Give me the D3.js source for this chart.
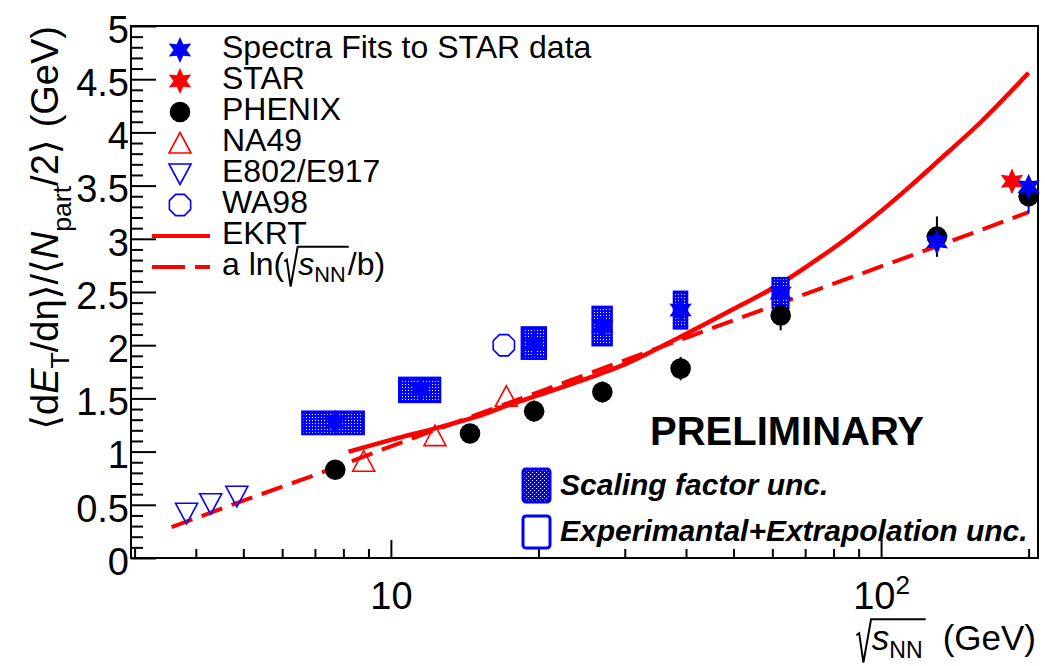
<!DOCTYPE html>
<html>
<head>
<meta charset="utf-8">
<script src="https://cdn.jsdelivr.net/npm/d3@7"></script>
<style>
  body { margin: 0; background: #fff; }
  svg text { font-family: "Liberation Sans", Arial, "DejaVu Sans", sans-serif; fill: #000; }
</style>
</head>
<body>
<div id="chart"></div>
<script>
// values: x = sqrt(s_NN) in GeV, y = <dE_T/deta>/<N_part/2> in GeV

// spectra fits to STAR data (blue stars) + their uncertainty boxes
let fitsEnergy = [7.7, 11.5, 19.6, 27, 39, 62.4, 130, 200];
let fitsValue = [1.27, 1.58, 2.02, 2.18, 2.33, 2.49, 2.97, 3.49];
let fitsErrLow = [0, 0, 0, 0, 0, 0, 0.1, 0.25];
let fitsErrHigh = [0, 0, 0, 0, 0, 0, 0.1, 0.05];
let fitsBoxHalfY = [0.105, 0.113, 0.147, 0.18, 0.172, 0.14, 0, 0];
let fitsBoxHalfX = [1.1, 1.1, 1.1, 1.2, 1.2, 2.3, 0, 0];

// STAR (red star)
let starEnergy = [185];
let starValue = [3.54];

// PHENIX (black circles)
let phenixEnergy = [7.7, 14.5, 19.6, 27, 39, 62.4, 130, 200];
let phenixValue = [0.83, 1.17, 1.38, 1.56, 1.78, 2.28, 3.02, 3.40];
let phenixErr = [0.09, 0.09, 0.1, 0.1, 0.11, 0.14, 0.19, 0.1];

// NA49 (red open triangles)
let na49Energy = [8.8, 12.3, 17.2];
let na49Value = [0.91, 1.15, 1.52];

// E802/E917 (blue open down triangles)
let e802Energy = [3.83, 4.29, 4.85];
let e802Value = [0.42, 0.51, 0.58];

// WA98 (blue open circle)
let wa98Energy = [17.0];
let wa98Value = [2.0];

// EKRT curve
let ekrtEnergy = [8.2, 10, 12.6, 15, 17.2, 20, 26.7, 30, 39, 50, 62.4, 70, 86, 100, 115, 130, 160, 200];
let ekrtValue = [1.0, 1.11, 1.23, 1.33, 1.43, 1.53, 1.73, 1.82, 2.08, 2.34, 2.58, 2.73, 3.02, 3.26, 3.5, 3.72, 4.1, 4.56];

// a ln(sqrt(s)/b) curve
let lnEnergy = [3.57, 5, 7, 10, 20, 40, 70, 100, 130, 200];
let lnValue = [0.29, 0.54, 0.78, 1.05, 1.56, 2.07, 2.48, 2.74, 2.93, 3.25];

// ticks
let yMajorTicks = [0, 0.5, 1, 1.5, 2, 2.5, 3, 3.5, 4, 4.5, 5];
let yMinorTicks = d3.range(0, 51).filter(i => i % 5 !== 0).map(i => i / 10);
let xMajorTicks = [10, 100];
let xMinorTicks = [3, 4, 5, 6, 7, 8, 9, 20, 30, 40, 50, 60, 70, 80, 90, 200];

let legendLabels = ["Spectra Fits to STAR data", "STAR", "PHENIX", "NA49", "E802/E917", "WA98", "EKRT"];

// page / frame
let svgWidth = 1045;
let svgHeight = 666;
let margin = { top: 26, right: 7, bottom: 108, left: 131 };
let blue = "#0000ff";
let red = "#ff0000";

let svg = d3.select("#chart")
  .append("svg")
  .attr("width", svgWidth)
  .attr("height", svgHeight);

svg.append("rect")
  .attr("width", svgWidth)
  .attr("height", svgHeight)
  .attr("fill", "#fff");

let x = d3.scaleLog()
  .domain([2.95, 209])
  .range([margin.left, svgWidth - margin.right]);

let y = d3.scaleLinear()
  .domain([0, 5])
  .range([svgHeight - margin.bottom, margin.top]);

// dotted fills used for the scaling factor boxes
let defs = svg.append("defs");
function dotPattern(id, size, dots) {
  let p = defs.append("pattern")
    .attr("id", id)
    .attr("patternUnits", "userSpaceOnUse")
    .attr("width", size)
    .attr("height", size);
  p.append("rect").attr("width", size).attr("height", size).attr("fill", blue)
    .attr("shape-rendering", "crispEdges");
  dots.forEach(d => {
    p.append("rect").attr("x", d[0]).attr("y", d[1])
      .attr("width", 1).attr("height", 1).attr("fill", "#fff")
      .attr("shape-rendering", "crispEdges");
  });
}
dotPattern("dots", 3, [[0, 0]]);
dotPattern("dotsLegend", 4, [[0, 0], [2, 2]]);

// marker shapes
function starPath(r) {
  let pts = [];
  for (let i = 0; i < 12; i++) {
    let a = Math.PI / 6 * i - Math.PI / 2;
    let rr = i % 2 ? r * 0.5 : r;
    pts.push([rr * Math.cos(a), rr * Math.sin(a)]);
  }
  return d3.line()(pts) + "Z";
}
function octagonPath(r) {
  let pts = d3.range(8).map(i => {
    let a = Math.PI / 8 + i * Math.PI / 4;
    return [r * Math.cos(a), r * Math.sin(a)];
  });
  return d3.line()(pts) + "Z";
}

function drawMarker(g, kind, cx, cy) {
  if (kind === "fits" || kind === "star") {
    g.append("path")
      .attr("d", starPath(13))
      .attr("transform", `translate(${cx},${cy})`)
      .attr("fill", kind === "fits" ? blue : red);
  } else if (kind === "phenix") {
    g.append("circle")
      .attr("cx", cx).attr("cy", cy).attr("r", 10.3)
      .attr("fill", "#000");
  } else if (kind === "na49") {
    g.append("path")
      .attr("d", "M0,-10.5L11,10L-11,10Z")
      .attr("transform", `translate(${cx},${cy})`)
      .attr("fill", "none").attr("stroke", red).attr("stroke-width", 1.6);
  } else if (kind === "e802") {
    g.append("path")
      .attr("d", "M0,10.5L11,-10L-11,-10Z")
      .attr("transform", `translate(${cx},${cy})`)
      .attr("fill", "none").attr("stroke", blue).attr("stroke-width", 1.6);
  } else if (kind === "wa98") {
    g.append("path")
      .attr("d", octagonPath(11.5))
      .attr("transform", `translate(${cx},${cy})`)
      .attr("fill", "none").attr("stroke", blue).attr("stroke-width", 1.6);
  }
}

// pieces of text laid out left to right, with optional radical sign
function addPieces(g, pieces, fontSize) {
  let cursor = 0;
  let placed = [];
  pieces.forEach(p => {
    cursor += p.gap || 0;
    if (p.radical) {
      placed.push({ radical: true, x: cursor, covers: p.covers });
      cursor += fontSize * 0.44;
      return;
    }
    let t = g.append("text")
      .attr("x", cursor)
      .attr("y", (p.shift || 0) * fontSize)
      .attr("font-size", fontSize * (p.scale || 1))
      .attr("font-style", p.italic ? "italic" : null)
      .text(p.text);
    let w = t.node().getComputedTextLength();
    placed.push({ x: cursor, w: w });
    cursor += w;
  });
  placed.forEach((p, i) => {
    if (!p.radical) return;
    let last = placed[i + p.covers];
    let end = last.x + last.w + 3;
    let em = fontSize;
    g.append("path")
      .attr("d", `M${p.x},${-0.42 * em}L${p.x + 0.08 * em},${-0.48 * em}L${p.x + 0.2 * em},${0.36 * em}L${p.x + 0.42 * em},${-0.88 * em}H${end}`)
      .attr("fill", "none")
      .attr("stroke", "#000")
      .attr("stroke-width", 2);
  });
  return cursor;
}

// axes: ticks drawn inside the frame, ROOT style
let plotBottom = svgHeight - margin.bottom;

let yMinor = svg.append("g")
  .attr("transform", `translate(${margin.left},0)`)
  .call(d3.axisLeft(y).tickValues(yMinorTicks).tickSize(-12).tickSizeOuter(0).tickFormat(""));

let yAxis = svg.append("g")
  .attr("transform", `translate(${margin.left},0)`)
  .call(d3.axisLeft(y).tickValues(yMajorTicks).tickSize(-25).tickSizeOuter(0).tickPadding(2).tickFormat(d => String(d)));

let xMinor = svg.append("g")
  .attr("transform", `translate(0,${plotBottom})`)
  .call(d3.axisBottom(x).tickValues(xMinorTicks).tickSize(-9).tickSizeOuter(0).tickFormat(""));

let xAxis = svg.append("g")
  .attr("transform", `translate(0,${plotBottom})`)
  .call(d3.axisBottom(x).tickValues(xMajorTicks).tickSize(-18).tickSizeOuter(0).tickPadding(24).tickFormat(d => String(d)));

[yMinor, yAxis, xMinor, xAxis].forEach(a => {
  a.attr("font-family", null).attr("font-size", null);
  a.select(".domain").remove();
  a.selectAll("line").attr("stroke", "#000").attr("stroke-width", 2);
  a.selectAll("text").attr("font-size", 38).attr("fill", "#000");
});
yAxis.selectAll("text").attr("dy", "0.43em");

// 10^2 label with a superscript
xAxis.selectAll(".tick text")
  .filter(d => d === 100)
  .text(null)
  .call(t => {
    t.append("tspan").text("10");
    t.append("tspan").attr("dy", -15).attr("font-size", 26).text("2");
  });

// frame
svg.append("rect")
  .attr("x", margin.left)
  .attr("y", margin.top)
  .attr("width", svgWidth - margin.right - margin.left)
  .attr("height", plotBottom - margin.top)
  .attr("fill", "none")
  .attr("stroke", "#000")
  .attr("stroke-width", 2);

// curves
let plot = svg.append("g");
let lineGen = d3.line()
  .x(d => x(d[0]))
  .y(d => y(d[1]));

plot.append("path")
  .attr("d", lineGen(d3.zip(lnEnergy, lnValue)))
  .attr("fill", "none")
  .attr("stroke", red)
  .attr("stroke-width", 4)
  .attr("stroke-dasharray", "22,10");

plot.append("path")
  .attr("d", lineGen.curve(d3.curveMonotoneX)(d3.zip(ekrtEnergy, ekrtValue)))
  .attr("fill", "none")
  .attr("stroke", red)
  .attr("stroke-width", 4.5);

// uncertainty boxes for the spectra fits
fitsEnergy.forEach((e, i) => {
  if (!fitsBoxHalfY[i]) return;
  let x0 = x(e - fitsBoxHalfX[i]);
  let x1 = x(e + fitsBoxHalfX[i]);
  let y0 = y(fitsValue[i] + fitsBoxHalfY[i]);
  let y1 = y(fitsValue[i] - fitsBoxHalfY[i]);
  plot.append("rect")
    .attr("x", x0).attr("y", y0)
    .attr("width", x1 - x0).attr("height", y1 - y0)
    .attr("fill", "url(#dots)")
    .attr("stroke", blue)
    .attr("stroke-width", 2.5);
});

// error bars
function errorBars(energy, value, low, high, color) {
  energy.forEach((e, i) => {
    if (!low[i] && !high[i]) return;
    plot.append("line")
      .attr("x1", x(e)).attr("x2", x(e))
      .attr("y1", y(value[i] - low[i])).attr("y2", y(value[i] + high[i]))
      .attr("stroke", color)
      .attr("stroke-width", 2);
  });
}
errorBars(phenixEnergy, phenixValue, phenixErr, phenixErr, "#000");
errorBars(fitsEnergy, fitsValue, fitsErrLow, fitsErrHigh, blue);

// markers
phenixEnergy.forEach((e, i) => drawMarker(plot, "phenix", x(e), y(phenixValue[i])));
na49Energy.forEach((e, i) => drawMarker(plot, "na49", x(e), y(na49Value[i])));
e802Energy.forEach((e, i) => drawMarker(plot, "e802", x(e), y(e802Value[i])));
wa98Energy.forEach((e, i) => drawMarker(plot, "wa98", x(e), y(wa98Value[i])));
starEnergy.forEach((e, i) => drawMarker(plot, "star", x(e), y(starValue[i])));
fitsEnergy.forEach((e, i) => drawMarker(plot, "fits", x(e), y(fitsValue[i])));

// legend
let legend = svg.append("g");
let legendKinds = ["fits", "star", "phenix", "na49", "e802", "wa98"];
let rowY = d3.range(8).map(i => 50 + 31 * i);

legendKinds.forEach((k, i) => drawMarker(legend, k, 180, rowY[i]));
legendLabels.forEach((label, i) => {
  legend.append("text")
    .attr("x", 222)
    .attr("y", rowY[i] + 8)
    .attr("font-size", 32)
    .text(label);
});

legend.append("line")
  .attr("x1", 152).attr("x2", 210)
  .attr("y1", rowY[6]).attr("y2", rowY[6])
  .attr("stroke", red).attr("stroke-width", 4);

legend.append("line")
  .attr("x1", 152).attr("x2", 210)
  .attr("y1", rowY[7]).attr("y2", rowY[7])
  .attr("stroke", red).attr("stroke-width", 4)
  .attr("stroke-dasharray", "33,10");

let lnLabel = legend.append("g")
  .attr("transform", `translate(222,${rowY[7] + 8})`);
addPieces(lnLabel, [
  { text: "a ln(" },
  { radical: true, covers: 2 },
  { text: "s", italic: true },
  { text: "NN", scale: 0.68, shift: 0.22 },
  { text: "/b)", gap: 2 }
], 32);

// preliminary + box legend
svg.append("text")
  .attr("x", 787)
  .attr("y", 445)
  .attr("text-anchor", "middle")
  .attr("font-size", 40)
  .attr("font-weight", "bold")
  .text("PRELIMINARY");

svg.append("rect")
  .attr("x", 523).attr("y", 469)
  .attr("width", 27).attr("height", 33)
  .attr("rx", 3)
  .attr("fill", "url(#dotsLegend)")
  .attr("stroke", blue)
  .attr("stroke-width", 3);

svg.append("rect")
  .attr("x", 523).attr("y", 516)
  .attr("width", 27).attr("height", 32)
  .attr("rx", 3)
  .attr("fill", "none")
  .attr("stroke", blue)
  .attr("stroke-width", 3);

svg.append("text")
  .attr("x", 560).attr("y", 495)
  .attr("font-size", 30)
  .attr("font-weight", "bold")
  .attr("font-style", "italic")
  .text("Scaling factor unc.");

svg.append("text")
  .attr("x", 560).attr("y", 541)
  .attr("font-size", 30)
  .attr("font-weight", "bold")
  .attr("font-style", "italic")
  .text("Experimantal+Extrapolation unc.");

// x axis title, right aligned
let xTitle = svg.append("g");
let xTitleWidth = addPieces(xTitle, [
  { radical: true, covers: 2 },
  { text: "s", italic: true },
  { text: "NN", scale: 0.66, shift: 0.23 },
  { text: "(GeV)", gap: 20 }
], 35);
xTitle.attr("transform", `translate(${1036 - xTitleWidth},650)`);

// y axis title, rotated, ends at the top of the frame
let yTitle = svg.append("g");
let yTitleWidth = addPieces(yTitle, [
  { text: "\u27e8d" },
  { text: "E", italic: true },
  { text: "T", scale: 0.7, shift: 0.3 },
  { text: "/d\u03b7\u27e9/\u27e8" },
  { text: "N", italic: true },
  { text: "part", scale: 0.7, shift: 0.35 },
  { text: "/2\u27e9" },
  { text: "(GeV)", gap: 12 }
], 38);
yTitle.attr("transform", `translate(58,${margin.top + yTitleWidth}) rotate(-90)`);
</script>
</body>
</html>
